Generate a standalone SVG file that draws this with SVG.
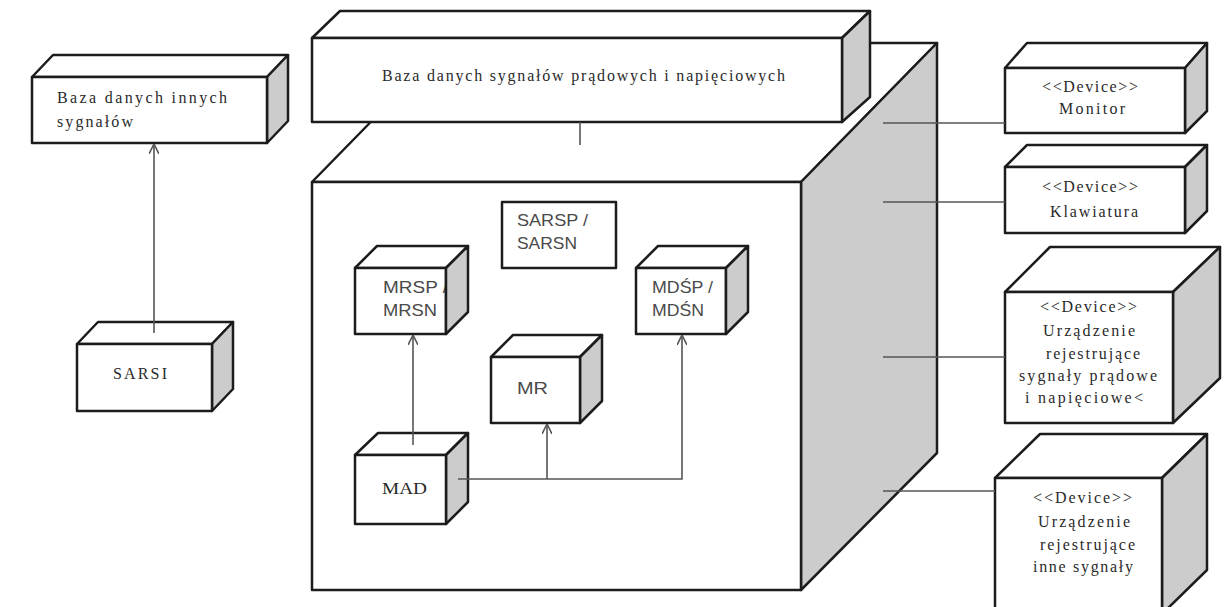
<svg xmlns="http://www.w3.org/2000/svg" width="1227" height="607" viewBox="0 0 1227 607">
  <style>
    .face { fill: #ffffff; stroke: #1c1c1c; stroke-width: 2.5; stroke-linejoin: round; }
    .side { fill: #cccccc; stroke: #1c1c1c; stroke-width: 2.5; stroke-linejoin: round; }
    .serif { font-family: "Liberation Serif", "Times New Roman", serif; fill: #2a2a2a; font-size: 16px; }
    .sans { font-family: "Liberation Sans", Arial, sans-serif; fill: #4a4a4a; font-size: 17px; }
    .link { fill: none; stroke: #555555; stroke-width: 1.6; }
  </style>
  <defs>
    <marker id="openArrow" viewBox="0 0 10 10" refX="10" refY="5" markerWidth="10" markerHeight="10" markerUnits="userSpaceOnUse" orient="auto">
      <path d="M0,0 L10,5 L0,10" fill="none" stroke="#555555" stroke-width="1.6"/>
    </marker>
  </defs>
  <rect width="1227" height="607" fill="#ffffff"/>

  <!-- main server cube -->
  <g id="server">
    <polygon class="face" points="312,182 448,43 937,43 801,182"/>
    <polygon class="side" points="801,182 937,43 937,453 801,590"/>
    <rect class="face" x="312" y="182" width="489" height="408"/>
  </g>

  <!-- database of current and voltage signals -->
  <g id="db-main">
    <polygon class="face" points="312,38 340,11 870,11 842,38"/>
    <polygon class="side" points="842,38 870,11 870,97 842,122"/>
    <rect class="face" x="312" y="38" width="530" height="84"/>
    <text class="serif" x="382" y="81" textLength="403" lengthAdjust="spacing">Baza danych sygnałów prądowych i napięciowych</text>
  </g>

  <!-- database of other signals -->
  <g id="db-other">
    <polygon class="face" points="32,77 53,55 288,55 267,77"/>
    <polygon class="side" points="267,77 288,55 288,121 267,143"/>
    <rect class="face" x="32" y="77" width="235" height="66"/>
    <text class="serif" x="57" y="103" textLength="170" lengthAdjust="spacing">Baza danych innych</text>
    <text class="serif" x="57" y="127" textLength="76" lengthAdjust="spacing">sygnałów</text>
  </g>

  <g id="sarsi">
    <polygon class="face" points="77,344 98,322 233,322 212,344"/>
    <polygon class="side" points="212,344 233,322 233,389 212,411"/>
    <rect class="face" x="77" y="344" width="135" height="67"/>
    <text class="serif" x="113" y="379" textLength="54" lengthAdjust="spacing" font-size="17">SARSI</text>
  </g>

  <g id="sarsp">
    <rect class="face" x="502" y="202" width="114" height="66" stroke-width="3"/>
    <text class="sans" x="517" y="226" textLength="71" lengthAdjust="spacingAndGlyphs">SARSP /</text>
    <text class="sans" x="517" y="249" textLength="60" lengthAdjust="spacingAndGlyphs">SARSN</text>
  </g>

  <g id="mrsp">
    <polygon class="face" points="355,268 377,246 468,246 446,268"/>
    <rect class="face" x="355" y="268" width="91" height="66"/>
    <text class="sans" x="383" y="293" textLength="65" lengthAdjust="spacingAndGlyphs">MRSP /</text>
    <text class="sans" x="383" y="316" textLength="54" lengthAdjust="spacingAndGlyphs">MRSN</text>
    <polygon class="side" points="446,268 468,246 468,312 446,334"/>
  </g>

  <g id="mdsp">
    <polygon class="face" points="636,268 658,246 748,246 726,268"/>
    <rect class="face" x="636" y="268" width="90" height="66"/>
    <text class="sans" x="652" y="293" textLength="61" lengthAdjust="spacingAndGlyphs">MDŚP /</text>
    <text class="sans" x="652" y="316" textLength="52" lengthAdjust="spacingAndGlyphs">MDŚN</text>
    <polygon class="side" points="726,268 748,246 748,312 726,334"/>
  </g>

  <g id="mr">
    <polygon class="face" points="491,357 513,335 602,335 580,357"/>
    <polygon class="side" points="580,357 602,335 602,401 580,423"/>
    <rect class="face" x="491" y="357" width="89" height="66"/>
    <text class="sans" x="517" y="394" textLength="31" lengthAdjust="spacingAndGlyphs">MR</text>
  </g>

  <g id="mad">
    <polygon class="face" points="355,455 378,433 468,433 446,455"/>
    <polygon class="side" points="446,455 468,433 468,502 446,524"/>
    <rect class="face" x="355" y="455" width="91" height="69"/>
    <text class="serif" x="382" y="494" textLength="45" lengthAdjust="spacingAndGlyphs" font-size="17">MAD</text>
  </g>

  <g id="monitor">
    <polygon class="face" points="1005,68 1027,43 1207,43 1185,68"/>
    <polygon class="side" points="1185,68 1207,43 1207,111 1185,133"/>
    <rect class="face" x="1005" y="68" width="180" height="65"/>
    <text class="serif" x="1042" y="92" textLength="96" lengthAdjust="spacing">&lt;&lt;Device&gt;&gt;</text>
    <text class="serif" x="1059" y="114" textLength="66" lengthAdjust="spacing">Monitor</text>
  </g>

  <g id="keyboard">
    <polygon class="face" points="1005,167 1027,145 1207,145 1185,167"/>
    <polygon class="side" points="1185,167 1207,145 1207,211 1185,233"/>
    <rect class="face" x="1005" y="167" width="180" height="66"/>
    <text class="serif" x="1042" y="192" textLength="96" lengthAdjust="spacing">&lt;&lt;Device&gt;&gt;</text>
    <text class="serif" x="1050" y="217" textLength="88" lengthAdjust="spacing">Klawiatura</text>
  </g>

  <g id="recorder-current-voltage">
    <polygon class="face" points="1005,292 1050,247 1220,247 1173,292"/>
    <polygon class="side" points="1173,292 1220,247 1220,378 1173,423"/>
    <rect class="face" x="1005" y="292" width="168" height="131"/>
    <text class="serif" x="1040" y="312" textLength="97" lengthAdjust="spacing">&lt;&lt;Device&gt;&gt;</text>
    <text class="serif" x="1043" y="336" textLength="92" lengthAdjust="spacing">Urządzenie</text>
    <text class="serif" x="1046" y="359" textLength="94" lengthAdjust="spacing">rejestrujące</text>
    <text class="serif" x="1019" y="381" textLength="138" lengthAdjust="spacing">sygnały prądowe</text>
    <text class="serif" x="1025" y="403" textLength="118" lengthAdjust="spacing">i napięciowe&lt;</text>
  </g>

  <g id="recorder-other">
    <polygon class="face" points="995,478 1040,434 1207,434 1162,478"/>
    <polygon class="side" points="1162,478 1207,434 1207,570 1162,614"/>
    <rect class="face" x="995" y="478" width="167" height="140"/>
    <text class="serif" x="1033" y="503" textLength="99" lengthAdjust="spacing">&lt;&lt;Device&gt;&gt;</text>
    <text class="serif" x="1038" y="527" textLength="92" lengthAdjust="spacing">Urządzenie</text>
    <text class="serif" x="1040" y="550" textLength="95" lengthAdjust="spacing">rejestrujące</text>
    <text class="serif" x="1033" y="572" textLength="100" lengthAdjust="spacing">inne sygnały</text>
  </g>

  <!-- connectors -->
  <g id="connectors">
    <line class="link" x1="154" y1="333" x2="154" y2="144" marker-end="url(#openArrow)"/>
    <line class="link" x1="580" y1="122" x2="580" y2="145"/>
    <line class="link" x1="413" y1="445" x2="413" y2="335" marker-end="url(#openArrow)"/>
    <polyline class="link" points="458,479 682,479 682,335" marker-end="url(#openArrow)"/>
    <line class="link" x1="547" y1="479" x2="547" y2="424" marker-end="url(#openArrow)"/>
    <line class="link" x1="883" y1="123" x2="1005" y2="123"/>
    <line class="link" x1="883" y1="202" x2="1005" y2="202"/>
    <line class="link" x1="883" y1="357" x2="1005" y2="357"/>
    <line class="link" x1="883" y1="491" x2="995" y2="491"/>
  </g>
</svg>
